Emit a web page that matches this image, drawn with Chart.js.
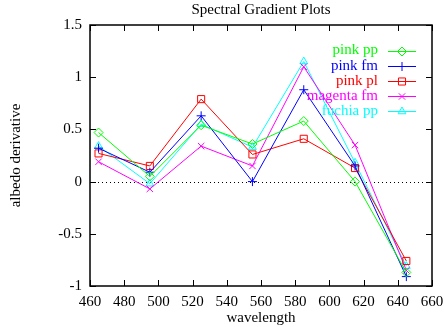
<!DOCTYPE html>
<html>
<head>
<meta charset="utf-8">
<script src="https://cdn.jsdelivr.net/npm/chart.js@4"></script>
<style>
  html, body { margin: 0; padding: 0; background: #fff; }
  #wrap { width: 444px; height: 327px; }
</style>
</head>
<body>
<div id="wrap"><canvas id="chart"></canvas></div>
<script>
// wavelengths (nm)
const wavelengths = [465, 495, 525, 555, 585, 615, 645];

// albedo derivative per sample
const pinkPP = [0.47, 0.05, 0.54, 0.36, 0.58, 0.0, -0.87];
const pinkFM = [0.32, 0.09, 0.63, 0.0, 0.88, 0.15, -0.91];
const pinkPL = [0.27, 0.15, 0.79, 0.26, 0.41, 0.13, -0.76];
const magentaFM = [0.19, -0.07, 0.34, 0.15, 1.1, 0.35, -0.85];
const fuchiaPP = [0.34, -0.02, 0.55, 0.33, 1.15, 0.18, -0.81];

const seriesNames = ["pink pp", "pink fm", "pink pl", "magenta fm", "fuchia pp"];
const seriesColors = ["#00ff00", "#0000ff", "#ff0000", "#ff00ff", "#00ffff"];
const seriesMarkers = ["rectRot", "cross", "rect", "crossRot", "triangle"];
const seriesValues = [pinkPP, pinkFM, pinkPL, magentaFM, fuchiaPP];

const xTicks = [460, 480, 500, 520, 540, 560, 580, 600, 620, 640, 660];
const yTicks = [-1, -0.5, 0, 0.5, 1, 1.5];

const FONT = "'Liberation Serif', 'Times New Roman', serif";

const markerRadius = m => (m === "rect" ? 5 : 4.5);

const datasets = seriesNames.map((name, i) => ({
  label: name,
  data: wavelengths.map((w, j) => ({ x: w, y: seriesValues[i][j] })),
  borderColor: seriesColors[i],
  backgroundColor: "rgba(0,0,0,0)",
  borderWidth: 1,
  pointStyle: seriesMarkers[i],
  pointRadius: markerRadius(seriesMarkers[i]),
  pointBorderWidth: 1,
  pointBorderColor: seriesColors[i],
  pointBackgroundColor: "rgba(0,0,0,0)",
  tension: 0,
}));

// frame, inward ticks, zero line, title, legend
const gnuplotLook = {
  id: "gnuplotLook",
  beforeDatasetsDraw(chart) {
    const { ctx, chartArea: a, scales } = chart;
    const y0 = Math.round(scales.y.getPixelForValue(0)) + 0.5;
    ctx.save();
    ctx.strokeStyle = "#000";
    ctx.lineWidth = 1;
    ctx.setLineDash([1, 3]);
    ctx.beginPath();
    ctx.moveTo(a.left, y0);
    ctx.lineTo(a.right, y0);
    ctx.stroke();
    ctx.restore();
  },
  afterDraw(chart) {
    const { ctx, chartArea: a, scales } = chart;
    ctx.save();
    ctx.strokeStyle = "#000";
    ctx.lineWidth = 1.5;
    ctx.strokeRect(a.left, a.top, a.right - a.left, a.bottom - a.top);
    ctx.lineWidth = 1;
    ctx.beginPath();
    xTicks.forEach(v => {
      const px = Math.round(scales.x.getPixelForValue(v)) + 0.5;
      ctx.moveTo(px, a.bottom); ctx.lineTo(px, a.bottom - 6);
      ctx.moveTo(px, a.top); ctx.lineTo(px, a.top + 6);
    });
    yTicks.forEach(v => {
      const py = Math.round(scales.y.getPixelForValue(v)) + 0.5;
      ctx.moveTo(a.left, py); ctx.lineTo(a.left + 6, py);
      ctx.moveTo(a.right, py); ctx.lineTo(a.right - 6, py);
    });
    ctx.stroke();

    // title
    ctx.fillStyle = "#000";
    ctx.font = "15px " + FONT;
    ctx.textAlign = "center";
    ctx.textBaseline = "middle";
    ctx.fillText("Spectral Gradient Plots", (a.left + a.right) / 2, 10);

    // legend
    ctx.font = "15px " + FONT;
    ctx.textAlign = "right";
    seriesNames.forEach((name, i) => {
      const ly = 50.5 + i * 15.2;
      ctx.fillStyle = seriesColors[i];
      ctx.fillText(name, 378, ly);
      ctx.strokeStyle = seriesColors[i];
      ctx.lineWidth = 1;
      ctx.beginPath();
      ctx.moveTo(388, Math.round(ly) + 0.5);
      ctx.lineTo(416, Math.round(ly) + 0.5);
      ctx.stroke();
      ctx.fillStyle = "rgba(0,0,0,0)";
      Chart.helpers.drawPoint(ctx, {
        pointStyle: seriesMarkers[i],
        radius: markerRadius(seriesMarkers[i]),
        borderWidth: 1,
      }, 402, Math.round(ly) + 0.5);
    });
    ctx.restore();
  },
};

new Chart(document.getElementById("chart"), {
  type: "line",
  data: { datasets },
  options: {
    responsive: true,
    maintainAspectRatio: false,
    animation: false,
    layout: { padding: { top: 25, right: 12, left: 0, bottom: 0 } },
    plugins: {
      legend: { display: false },
      tooltip: { enabled: false },
    },
    scales: {
      x: {
        type: "linear",
        min: 460,
        max: 660,
        afterBuildTicks: s => { s.ticks = xTicks.map(v => ({ value: v })); },
        afterFit: s => { s.height = 41; },
        grid: { display: false },
        border: { display: false },
        ticks: {
          color: "#000",
          font: { family: FONT, size: 15 },
          padding: -1,
          maxRotation: 0,
        },
        title: {
          display: true,
          text: "wavelength",
          color: "#000",
          font: { family: FONT, size: 15 },
          padding: { top: 0, bottom: 0 },
        },
      },
      y: {
        min: -1,
        max: 1.5,
        afterBuildTicks: s => { s.ticks = yTicks.map(v => ({ value: v })); },
        afterFit: s => { s.width = 90; },
        grid: { display: false },
        border: { display: false },
        ticks: {
          color: "#000",
          font: { family: FONT, size: 15 },
          padding: 0,
          callback: v => String(v),
        },
        title: {
          display: true,
          text: "albedo derivative",
          color: "#000",
          font: { family: FONT, size: 15 },
          padding: { top: 7, bottom: 0 },
        },
      },
    },
  },
  plugins: [gnuplotLook],
});
</script>
</body>
</html>
